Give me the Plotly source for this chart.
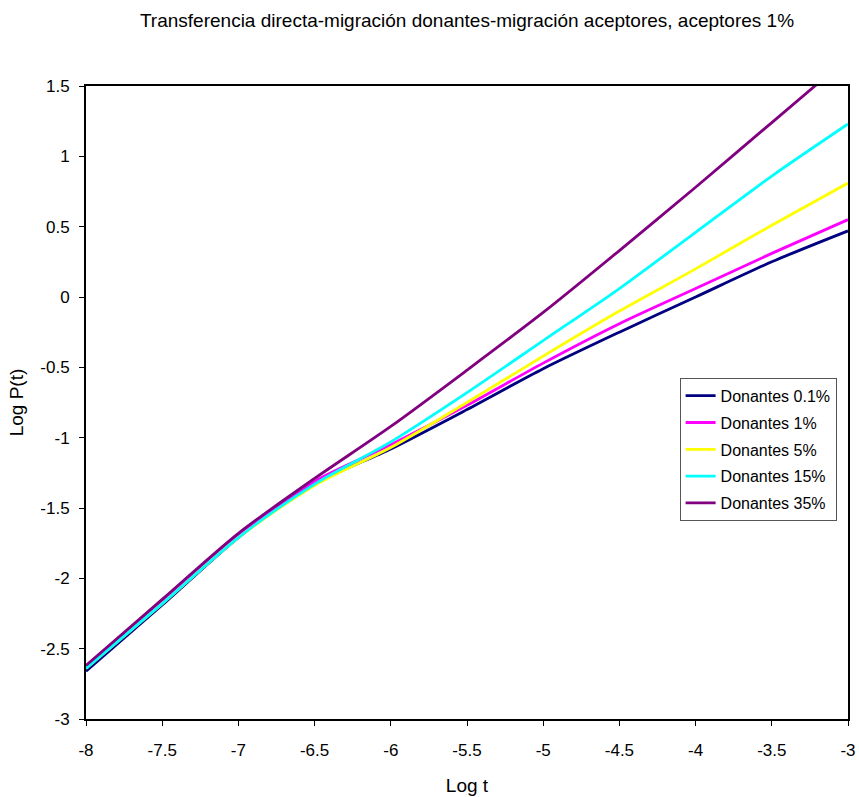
import plotly.graph_objects as go

# Log t sample points
log_t = [-8.0, -7.5, -7.0, -6.5, -6.0, -5.5, -5.0, -4.5, -4.0, -3.5, -3.0]

# Log P(t) for each donor concentration
donantes_01 = [-2.66, -2.19, -1.71, -1.33, -1.08, -0.80, -0.51, -0.25, 0.00, 0.25, 0.47]
donantes_1 = [-2.62, -2.16, -1.69, -1.31, -1.05, -0.77, -0.47, -0.19, 0.06, 0.31, 0.55]
donantes_5 = [-2.64, -2.18, -1.71, -1.34, -1.07, -0.75, -0.42, -0.10, 0.20, 0.51, 0.81]
donantes_15 = [-2.64, -2.18, -1.71, -1.33, -1.03, -0.68, -0.31, 0.06, 0.46, 0.86, 1.23]
donantes_35 = [-2.62, -2.15, -1.68, -1.29, -0.92, -0.52, -0.11, 0.33, 0.78, 1.24, 1.70]

series_names = ["Donantes 0.1%", "Donantes 1%", "Donantes 5%", "Donantes 15%", "Donantes 35%"]
series_values = [donantes_01, donantes_1, donantes_5, donantes_15, donantes_35]
series_colors = ["#000080", "#FF00FF", "#FFFF00", "#00FFFF", "#800080"]

x_ticks = [-8, -7.5, -7, -6.5, -6, -5.5, -5, -4.5, -4, -3.5, -3]
y_ticks = [-3, -2.5, -2, -1.5, -1, -0.5, 0, 0.5, 1, 1.5]

fig = go.Figure()
for i, (name, vals, col) in enumerate(zip(series_names, series_values, series_colors)):
    fig.add_trace(go.Scatter(
        x=log_t, y=vals, name=name, mode="lines",
        line=dict(color=col, width=2.8, shape="spline", smoothing=0.8),
        legendgroup=f"g{i}",
    ))

font_family = "Liberation Sans, Arial, sans-serif"

fig.update_layout(
    width=859, height=797,
    margin=dict(l=86, r=11, t=86, b=78),
    paper_bgcolor="white", plot_bgcolor="white",
    font=dict(family=font_family, size=17, color="black"),
    title=dict(
        text="Transferencia directa-migración donantes-migración aceptores, aceptores 1%",
        x=0.5, xref="paper", xanchor="center", y=1 - 20 / 797, yanchor="middle", yref="container",
        font=dict(size=19, color="black"),
    ),
    showlegend=True,
    legend=dict(
        x=0.779, y=0.539, xanchor="left", yanchor="top",
        bordercolor="#555555", borderwidth=1, bgcolor="white",
        font=dict(size=16), tracegroupgap=3, itemwidth=30,
    ),
    xaxis=dict(
        range=[-8, -3], tickvals=x_ticks,
        ticktext=[f"{v:g}" for v in x_ticks],
        showgrid=False, zeroline=False, automargin=False,
        showline=True, linecolor="black", linewidth=2, mirror=True,
        ticks="outside", ticklen=5, tickcolor="black", tickwidth=1,
        ticklabelstandoff=10,
        title=dict(text="Log t", font=dict(size=19), standoff=19),
    ),
    yaxis=dict(
        range=[-3, 1.5], tickvals=y_ticks,
        ticktext=[f"{v:g}" for v in y_ticks],
        showgrid=False, zeroline=False, automargin=False,
        showline=True, linecolor="black", linewidth=2, mirror=True,
        ticks="outside", ticklen=5, tickcolor="black", tickwidth=1,
        ticklabelstandoff=6,
        title=dict(text="Log P(t)", font=dict(size=19), standoff=12),
    ),
)

fig.write_html("out.html")
